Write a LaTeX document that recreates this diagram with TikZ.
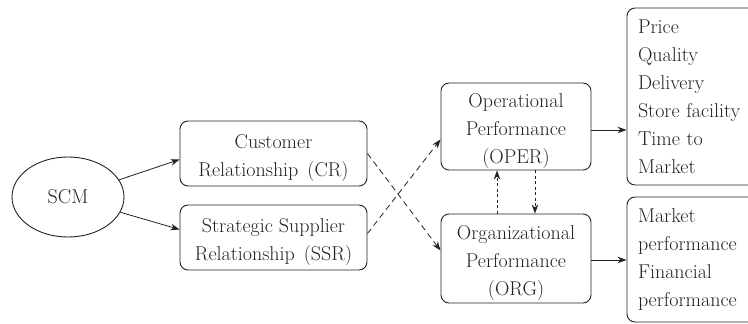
\documentclass[tikz,border=0pt]{standalone}
\usetikzlibrary{shapes.geometric,arrows.meta}
\definecolor{ink}{HTML}{222222}
\newcommand{\pgap}{\hspace{0.45em}}
% invisible strut that lowers the text block a little inside its box
\newcommand{\toppad}{\rule{0pt}{22pt}}
\begin{document}
\begin{tikzpicture}[x=1pt,y=-1pt,
  every node/.style={font=\fontsize{20}{28}\selectfont, text=ink},
  box/.style={draw=ink, line width=0.9pt, rounded corners=8pt, align=center, inner sep=0pt},
  listbox/.style={draw=ink, line width=0.9pt, rounded corners=8pt, align=left,
    text width=150pt, inner xsep=11pt, inner ysep=0pt},
  arr/.style={draw=ink, line width=0.8pt, -{Stealth[length=9pt,width=6.5pt]}},
  dasharr/.style={arr, dash pattern=on 6pt off 4pt},
  dotarr/.style={arr, dash pattern=on 3pt off 2.5pt}]
\useasboundingbox (0,0) rectangle (748,324);
\clip (0,0) rectangle (748,324);

% driver
\node[ellipse, draw=ink, line width=0.9pt, minimum width=112pt, minimum height=80pt] (scm) at (68,197) {SCM};

% relationship constructs
\node[box, minimum width=187pt, minimum height=65pt] (cr) at (273.5,153.5) {\toppad Customer\\Relationship\pgap(CR)};
\node[box, minimum width=187pt, minimum height=65pt] (ssr) at (273.5,237.5) {\toppad Strategic Supplier\\Relationship\pgap(SSR)};

% performance constructs
\node[box, minimum width=150pt, minimum height=87pt] (oper) at (516,126.5) {\toppad Operational\\Performance\\(OPER)};
\node[box, minimum width=150pt, minimum height=89pt] (org) at (516,258.5) {\toppad Organizational\\Performance\\(ORG)};

% indicator lists
\node[listbox, minimum height=177pt] (opind) at (713,96.5) {Price\\Quality\\Delivery\\Store facility\\Time to\\Market};
\node[listbox, minimum height=125pt] (orgind) at (713,259.5) {Market\\performance\\Financial\\performance};

% solid links from SCM
\draw[arr] (scm) -- ([yshift=-6pt]cr.west);
\draw[arr] (scm) -- ([yshift=8pt]ssr.west);

% crossing dashed links
\draw[dasharr] (cr.east) -- ([yshift=8pt]org.west);
\draw[dasharr] ([yshift=4pt]ssr.east) -- ([yshift=-13pt]oper.west);

% mutual dotted links
\draw[dotarr] ([xshift=-19pt]org.north) -- ([xshift=-19pt]oper.south);
\draw[dotarr] ([xshift=19pt]oper.south) -- ([xshift=19pt]org.north);

% links to indicators
\coordinate (o1) at ([yshift=-3.5pt]oper.east);
\draw[arr] (o1) -- (o1 -| opind.west);
\coordinate (o2) at ([yshift=-1.5pt]org.east);
\draw[arr] (o2) -- (o2 -| orgind.west);
\end{tikzpicture}
\end{document}
